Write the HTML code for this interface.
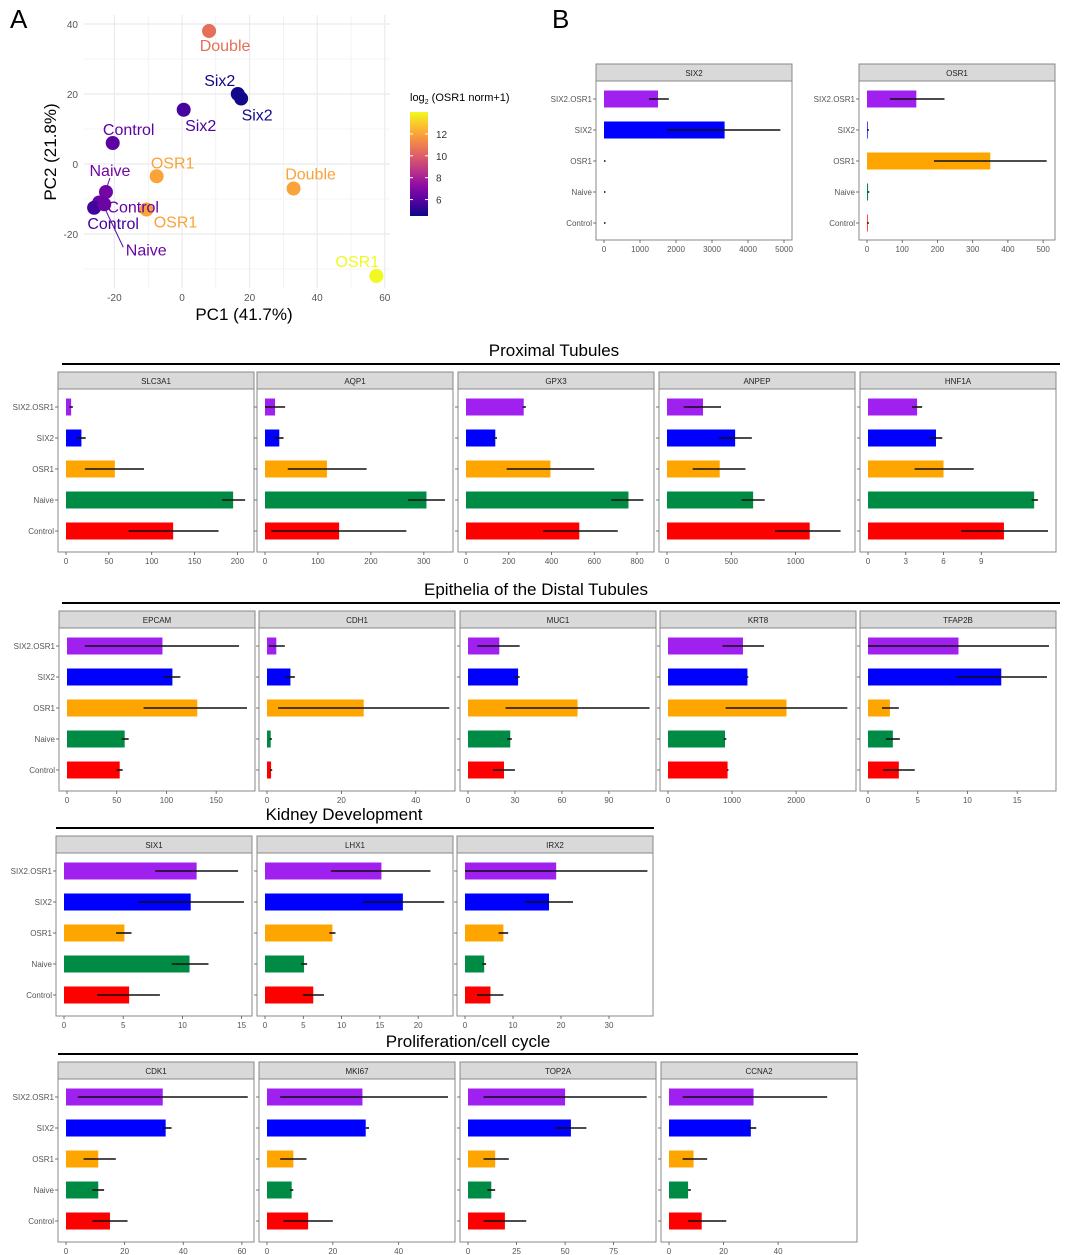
<!DOCTYPE html>
<html><head><meta charset="utf-8">
<style>
html,body{margin:0;padding:0;background:#fff;}
body{width:1065px;height:1255px;overflow:hidden;font-family:"Liberation Sans",sans-serif;}
svg{display:block}
</style></head>
<body>
<svg id="fig" width="1065" height="1255" viewBox="0 0 1065 1255" xmlns="http://www.w3.org/2000/svg" font-family="Liberation Sans, sans-serif">
<text x="10" y="28" font-size="26">A</text>
<text x="552" y="28" font-size="26">B</text>
<g id="pca"></g>
<g id="bars"></g>
</svg>
<script>
const NS='http://www.w3.org/2000/svg';
function el(tag,attrs,parent,txt){const e=document.createElementNS(NS,tag);for(const k in attrs)e.setAttribute(k,attrs[k]);if(txt!==undefined)e.textContent=txt;parent.appendChild(e);return e;}

// ---------- PCA data ----------
const pcaLabels=['Double','Six2','Six2','Six2','Control','OSR1','Double','OSR1','Naive','Control','Control','Naive','OSR1'];
const pcaX=[8,16.5,17.5,0.5,-20.5,-7.5,33,-10.5,-22.5,-24.5,-26,-23,57.5];
const pcaY=[38,20,18.7,15.5,6,-3.5,-7,-13,-8,-11,-12.5,-11.5,-32];
const pcaOSR1=[10.5,4.6,4.6,5.6,6.1,12,12,12,6.6,6.3,5.5,6.4,14];
// label offsets in px (layout)
const pcaLabelDX=[16,-18,16,17,16,16,17,29,4,34,19,42,-19];
const pcaLabelDY=[14,-14,16,15,-14,-14,-15,12,-22,4,15,45,-15];
const xTicks=[-20,0,20,40,60], yTicks=[-20,0,20,40];
const pca=document.getElementById('pca');
const px=v=>182+v*3.38, py=v=>164-v*3.5;
function plasma(v){const t=Math.max(0,Math.min(1,(v-4.5)/(14-4.5)));
 const stops=[[13,8,135],[84,2,163],[139,10,165],[185,50,137],[219,92,104],[244,136,73],[254,188,43],[240,249,33]];
 const f=t*(stops.length-1),i=Math.min(stops.length-2,Math.floor(f)),r=f-i;
 const c=stops[i].map((a,k)=>Math.round(a+(stops[i+1][k]-a)*r));return `rgb(${c})`;}
for(let v=-30;v<=60;v+=10){const x=px(v);if(x>84&&x<392)el('line',{x1:x,y1:15,x2:x,y2:288,stroke:'#ebebeb','stroke-width':v%20==0?1.2:0.6},pca);}
for(let v=-30;v<=40;v+=10){const y=py(v);el('line',{x1:84,y1:y,x2:390,y2:y,stroke:'#ebebeb','stroke-width':v%20==0?1.2:0.6},pca);}
xTicks.forEach(t=>{const e=el('text',{x:px(t),y:301,'font-size':10,fill:'#555','text-anchor':'middle'},pca,t);});
yTicks.forEach(t=>{const e=el('text',{x:78,y:py(t)+4,'font-size':10,fill:'#555','text-anchor':'end'},pca,t);});
let t1=el('text',{x:244,y:320,'font-size':17,'text-anchor':'middle'},pca,'PC1 (41.7%)');
let t2=el('text',{x:56,y:152,'font-size':17,'text-anchor':'middle',transform:'rotate(-90 56 152)'},pca,'PC2 (21.8%)');
// naive leader lines
el('line',{x1:px(-22.5)+1,y1:py(-8)-5,x2:px(-22.5)+4,y2:py(-8)-14,stroke:'#5a10a0','stroke-width':1},pca);
el('line',{x1:px(-23),y1:py(-11.5)+3,x2:px(-23)+19,y2:py(-11.5)+43,stroke:'#5a10a0','stroke-width':1},pca);
pcaX.forEach((v,i)=>{const c=plasma(pcaOSR1[i]);
 const d=el('circle',{cx:px(v),cy:py(pcaY[i]),r:7,fill:c},pca);
 const l=el('text',{x:px(v)+pcaLabelDX[i],y:py(pcaY[i])+pcaLabelDY[i]+6,'font-size':16,fill:c,'text-anchor':'middle'},pca,pcaLabels[i]);
 });
// colorbar
const defs=el('defs',{},pca);const lg=el('linearGradient',{id:'cb',x1:0,y1:1,x2:0,y2:0},defs);
for(let k=0;k<=10;k++){el('stop',{offset:k/10,'stop-color':plasma(4.5+k*0.95)},lg);}
const cb=el('rect',{x:410,y:112,width:18,height:104,fill:'url(#cb)'},pca);
const cbTicks=[6,8,10,12];
cbTicks.forEach(t=>{const y=216-(t-4.5)/9.5*104;el('line',{x1:410,y1:y,x2:413,y2:y,stroke:'#fff'},pca);el('line',{x1:425,y1:y,x2:428,y2:y,stroke:'#fff'},pca);
 const e=el('text',{x:436,y:y+4,'font-size':10,fill:'#333'},pca,t);});
const lt=el('text',{x:410,y:101,'font-size':11},pca);
lt.innerHTML='log<tspan font-size="7" dy="3">2</tspan><tspan dy="-3"> (OSR1 norm+1)</tspan>';

// ---------- Bar panel data ----------
const groups=['SIX2.OSR1','SIX2','OSR1','Naive','Control'];
const colors=['#a020f0','#0000ff','#ffa500','#008b45','#ff0000'];
const genes=['SIX2','OSR1','SLC3A1','AQP1','GPX3','ANPEP','HNF1A','EPCAM','CDH1','MUC1','KRT8','TFAP2B','SIX1','LHX1','IRX2','CDK1','MKI67','TOP2A','CCNA2'];
const means=[[1500,3350,0,0,0],[140,2,350,3,2],[6,18,57,195,125],[19,27,117,305,140],[270,137,395,760,530],[280,530,410,670,1110],[3.9,5.4,6.0,13.2,10.8],
[96,106,131,58,53],[2.5,6.3,26,1,1.1],[20,32,70,27,23],[1170,1240,1850,890,930],[9.1,13.4,2.2,2.5,3.1],
[11.2,10.7,5.1,10.6,5.5],[15.2,18,8.8,5.1,6.3],[19,17.5,8,4,5.3],
[33,34,11,11,15],[29,30,8,7.5,12.5],[50,53,14,12,19],[31,30,9,7,12]];
const errLo=[[1250,1750,0,0,0],[65,1,190,2,1],[4,12,22,182,73],[0,18,43,270,12],[265,128,190,680,360],[130,400,200,580,840],[3.5,4.9,3.7,13,7.4],
[18,97,77,55,50],[0.5,5,3,0.7,0.8],[6,30,24,25,16],[850,1230,900,870,920],[0,8.9,1.4,1.8,1.5],
[7.7,6.3,4.4,9.1,2.8],[8.6,12.8,8.4,4.7,4.9],[0,12.5,7,3.6,2.5],
[4,33,6,9,9],[4,30,4,7,5],[8,45,8,10,8],[5,29,5,7,7]];
const errHi=[[1800,4900,0,0,0],[220,3,510,4,3],[8,23,91,209,178],[38,35,192,340,267],[280,145,600,830,710],[420,660,610,760,1350],[4.3,5.9,8.4,13.5,14.3],
[173,114,181,62,56],[4.8,7.5,49,1.3,1.4],[33,33,116,28,30],[1500,1250,2800,910,940],[18.2,18,3.1,3.2,4.7],
[14.7,15.2,5.7,12.2,8.1],[21.6,23.4,9.2,5.5,7.7],[38,22.5,9,4.4,8],
[62,36,17,13,21],[55,31,12,8,20],[92,61,21,14,30],[58,32,14,8,21]];
const domMax=[5000,511,210,340,842,1400,14.3,181,48.4,115,2810,18.1,15.2,23.5,37.5,61.4,54.7,92.7,66];
const ticks=[[0,1000,2000,3000,4000,5000],[0,100,200,300,400,500],[0,50,100,150,200],[0,100,200,300],[0,200,400,600,800],[0,500,1000],[0,3,6,9],
[0,50,100,150],[0,20,40],[0,30,60,90],[0,1000,2000],[0,5,10,15],[0,5,10,15],[0,5,10,15,20],[0,10,20,30],[0,20,40,60],[0,20,40],[0,25,50,75],[0,20,40]];
// layout (not data)
const boxX=[596,859,58,257,458,659,860,59,259,460,660,860,56,257,457,58,259,460,661];
const boxTop=[64,64,372,372,372,372,372,611,611,611,611,611,836,836,836,1062,1062,1062,1062];
const showY=[1,1,1,0,0,0,0,1,0,0,0,0,1,0,0,1,0,0,0];
const bars=document.getElementById('bars');
genes.forEach((g,p)=>{
 const x0=boxX[p],top=boxTop[p],W=196,hH=17,bot=top+(p<2?176:180);
 const z=x0+8,sc=(W-16)/domMax[p],X=v=>z+v*sc;
 const gp=el('g',{},bars);
 el('rect',{x:x0,y:top+hH,width:W,height:bot-top-hH,fill:'#fff',stroke:'#888','stroke-width':1},gp);
 el('rect',{x:x0,y:top,width:W,height:hH,fill:'#d9d9d9',stroke:'#888','stroke-width':1},gp);
 const ht=el('text',{x:x0+W/2,y:top+12,'font-size':8,fill:'#222','text-anchor':'middle'},gp,g);
 groups.forEach((c,i)=>{const cy=top+35+i*31;
  el('line',{x1:x0-3,y1:cy,x2:x0,y2:cy,stroke:'#555','stroke-width':0.8},gp);
  if(showY[p]){const yl=el('text',{x:x0-4,y:cy+3,'font-size':8,fill:'#555','text-anchor':'end'},gp,c);}
  const b=el('rect',{x:X(0),y:cy-8.5,width:Math.max(0,X(means[p][i])-X(0)),height:17,fill:colors[i]},gp);
  
  const e=el('line',{x1:X(errLo[p][i]),y1:cy,x2:Math.max(X(errHi[p][i]),X(errLo[p][i])+1.5),y2:cy,stroke:'#111','stroke-width':1.6},gp);
  });
 ticks[p].forEach(t=>{const tx=X(t);el('line',{x1:tx,y1:bot,x2:tx,y2:bot+3,stroke:'#555','stroke-width':0.8},gp);
  const tl=el('text',{x:tx,y:bot+12,'font-size':8,fill:'#555','text-anchor':'middle'},gp,t);});
});
// section titles
const secTitles=['Proximal Tubules','Epithelia of the Distal Tubules','Kidney Development','Proliferation/cell cycle'];
const secTX=[554,536,344,468],secTY=[356,595,820,1047],secL=[62,62,56,58],secR=[1060,1060,654,858],secLY=[364,603,828,1054];
secTitles.forEach((s,i)=>{const t=el('text',{x:secTX[i],y:secTY[i],'font-size':17,'text-anchor':'middle'},bars,s);
 const l=el('line',{x1:secL[i],y1:secLY[i],x2:secR[i],y2:secLY[i],stroke:'#000','stroke-width':2},bars);});
</script>
</body></html>
